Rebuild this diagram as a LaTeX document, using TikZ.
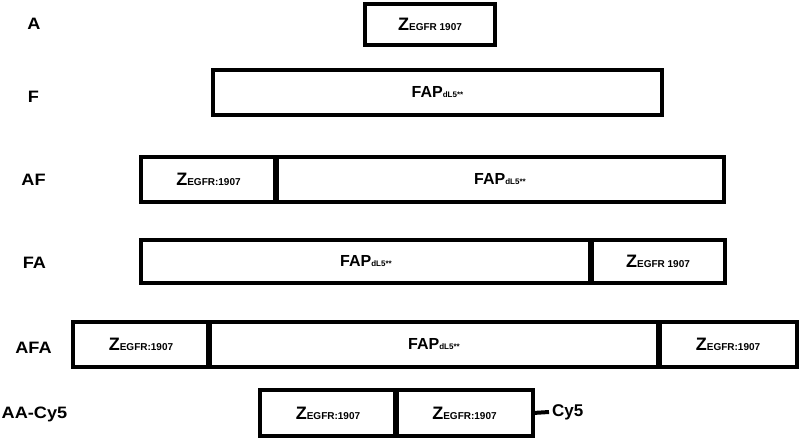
\documentclass[tikz,border=0pt]{standalone}
\usepackage{fontspec}
\usepackage{graphicx}
\setmainfont{Liberation Sans}
\newcommand\zeg[1]{{\fontsize{18}{18}\selectfont\bfseries Z}{\fontsize{10}{10}\selectfont\bfseries EGFR#11907}}
\newcommand\fapt{{\fontsize{16}{16}\selectfont\bfseries FAP}{\fontsize{8}{8}\selectfont\bfseries dL5**}}
\newcommand\widen[1]{\scalebox{1.1}[1]{#1}}
\begin{document}
\begin{tikzpicture}[x=1pt,y=-1pt,
  seg/.style={draw,line width=4.5pt,inner sep=0pt,outer sep=0pt},
  lab/.style={anchor=base,inner sep=0pt,font=\fontsize{16.5}{16.5}\selectfont\bfseries},
  conn/.style={line width=4pt}]
\useasboundingbox (0,0) rectangle (800,439);
\newcommand\seg[6]{\node[seg,minimum width={(#3-#2)*1pt},minimum height={(#5-#4)*1pt}] (#1) at ({(#2+#3)/2},{(#4+#5)/2}) {#6};}
% labels
\node[lab] (lA) at (34,29) {\widen{A}};
\node[lab] (lF) at (33.5,102) {\widen{F}};
\node[lab] (lAF) at (33.5,185) {\widen{AF}};
\node[lab] (lFA) at (34.5,268) {\widen{FA}};
\node[lab] (lAFA) at (33.5,353) {\widen{AFA}};
\node[lab] (lAA) at (34.5,418) {\widen{AA-Cy5}};
% A
\seg{a1}{365}{495}{4}{45}{\zeg{ }}
% F
\seg{f1}{213}{662}{70}{115}{\fapt}
% AF
\seg{af1}{141}{276}{157}{202}{\zeg{:}}
\seg{af2}{276}{724}{157}{202}{\fapt}
% FA
\seg{fa1}{141}{591}{240}{283}{\fapt}
\seg{fa2}{591}{725}{240}{283}{\zeg{ }}
% AFA
\seg{afa1}{73}{209}{322}{367}{\zeg{:}}
\seg{afa2}{209}{659}{322}{367}{\fapt}
\seg{afa3}{659}{797}{322}{367}{\zeg{:}}
% AA-Cy5
\seg{aa1}{260}{396}{390}{436}{\zeg{:}}
\seg{aa2}{396}{533}{390}{436}{\zeg{:}}
\node[anchor=west,inner sep=0pt,font=\fontsize{17}{17}\selectfont\bfseries] (cy5) at (552,412) {Cy5};
\draw[conn] (aa2.east) -- ([xshift=-3pt]cy5.west);
% thicker dividers
\draw[line width=6pt] (af1.north east) -- (af1.south east);
\draw[line width=6pt] (fa1.north east) -- (fa1.south east);
\draw[line width=6pt] (afa1.north east) -- (afa1.south east);
\draw[line width=6pt] (afa2.north east) -- (afa2.south east);
\draw[line width=6pt] (aa1.north east) -- (aa1.south east);
\end{tikzpicture}
\end{document}
